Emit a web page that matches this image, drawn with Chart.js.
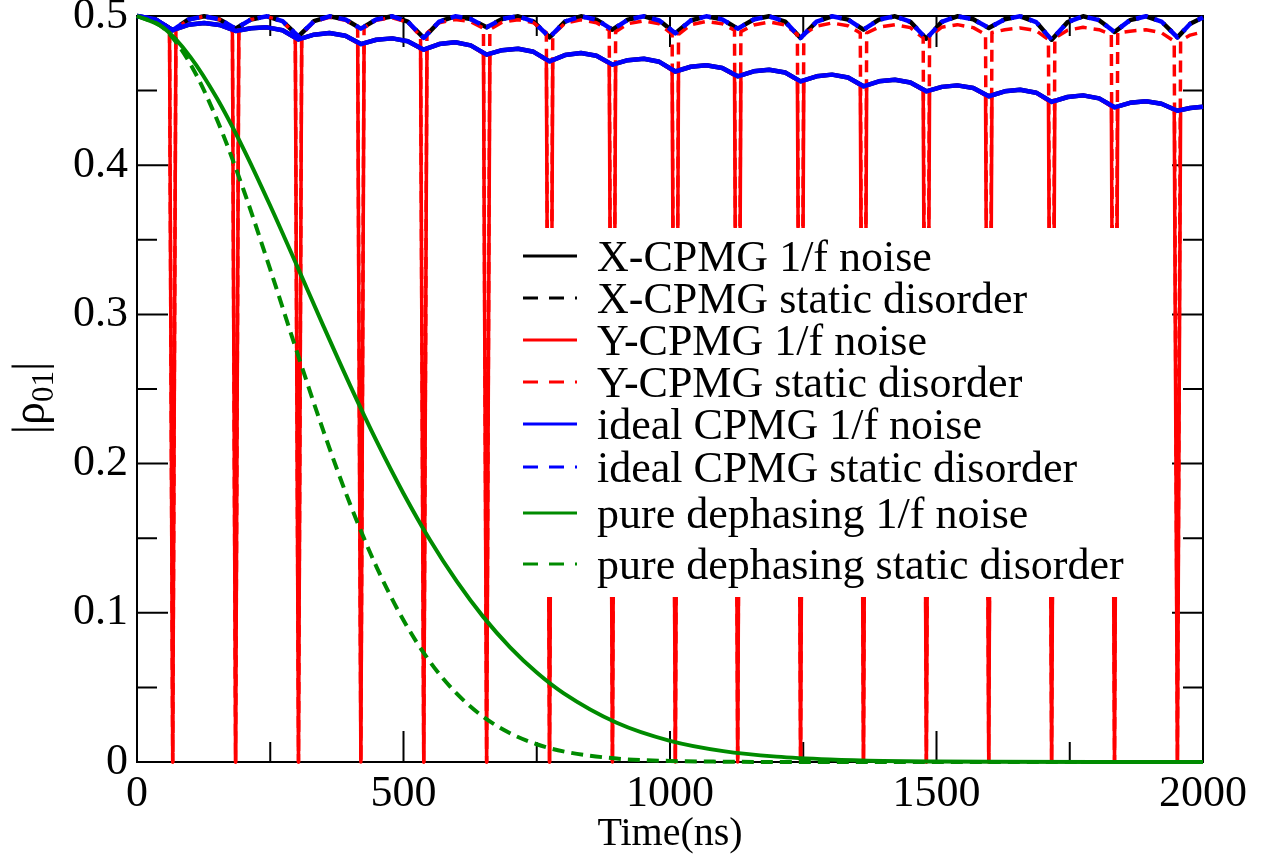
<!DOCTYPE html>
<html>
<head>
<meta charset="utf-8">
<script src="https://cdn.jsdelivr.net/npm/chart.js@4.4.0/dist/chart.umd.min.js"></script>
<style>
    html, body { margin: 0; padding: 0; background: #ffffff; }
    #wrap { width: 1279px; height: 861px; }
</style>
</head>
<body>
<div id="wrap"><canvas id="rho-chart" width="1279" height="861"></canvas></div>
<script>
(function () {
    'use strict';

    // axis ticks
    const xTicks = [0, 500, 1000, 1500, 2000];
    const xMinorTicks = [250, 750, 1250, 1750];
    const yTicks = [0, 0.1, 0.2, 0.3, 0.4, 0.5];
    const yMinorTicks = [0.05, 0.15, 0.25, 0.35, 0.45];

    const seriesLabels = [
        'X-CPMG 1/f noise',
        'X-CPMG static disorder',
        'Y-CPMG 1/f noise',
        'Y-CPMG static disorder',
        'ideal CPMG 1/f noise',
        'ideal CPMG static disorder',
        'pure dephasing 1/f noise',
        'pure dephasing static disorder'
    ];

    // X-CPMG / ideal CPMG: time grid (ns), cusps at the pulses
    const cpmgTimes = [0, 34, 67,
        96, 126, 155, 185, 214, 244, 273, 303, 332, 361, 391, 420, 449, 479, 508, 538,
        567, 597, 626, 656, 685, 715, 744, 774, 803, 833, 862, 892, 921, 951, 980, 1010,
        1039, 1068, 1098, 1127, 1157, 1186, 1216, 1245, 1275, 1304, 1334, 1363, 1392, 1422, 1451, 1481,
        1510, 1539, 1569, 1598, 1628, 1657, 1687, 1716, 1746, 1775, 1805, 1834, 1863, 1893, 1922, 1952,
        1976, 2000];

    const cpmgNoise = [0.5, 0.4978, 0.4905,
        0.4941, 0.4953, 0.494, 0.49, 0.4918, 0.4924, 0.4904, 0.4843, 0.4875, 0.4886, 0.4868, 0.4812,
        0.4841, 0.485, 0.4831, 0.4774, 0.4812, 0.4824, 0.4803, 0.4741, 0.4771, 0.4781, 0.476, 0.4696,
        0.4738, 0.4752, 0.4733, 0.4674, 0.4704, 0.4714, 0.4693, 0.4628, 0.466, 0.467, 0.4652, 0.4596,
        0.4629, 0.464, 0.4621, 0.4562, 0.4596, 0.4607, 0.4588, 0.4529, 0.4562, 0.4573, 0.4554, 0.4495,
        0.4525, 0.4535, 0.4517, 0.4462, 0.4495, 0.4506, 0.4486, 0.4424, 0.4457, 0.4468, 0.4448, 0.4388,
        0.4418, 0.4428, 0.4412, 0.4365,
        0.4383, 0.4392];

    const cpmgStatic = [0.5, 0.4978, 0.4905,
        0.4975, 0.4998, 0.4977, 0.4915, 0.4977, 0.4998, 0.4965, 0.4864, 0.4965, 0.4998, 0.4977, 0.4915,
        0.4977, 0.4998, 0.4962, 0.4853, 0.4962, 0.4998, 0.498, 0.4924, 0.498, 0.4998, 0.4963, 0.4857,
        0.4963, 0.4998, 0.4976, 0.4908, 0.4976, 0.4998, 0.497, 0.4884, 0.497, 0.4998, 0.4977, 0.4915,
        0.4977, 0.4998, 0.4962, 0.4853, 0.4962, 0.4998, 0.4976, 0.4908, 0.4976, 0.4998, 0.4961, 0.4848,
        0.4961, 0.4998, 0.4978, 0.492, 0.4978, 0.4998, 0.4959, 0.4841, 0.4959, 0.4998, 0.4972, 0.4893,
        0.4972, 0.4998, 0.4963, 0.4857,
        0.4948, 0.499];

    // Y-CPMG: same arches, the coherence drops to zero at every pulse
    const yTimes = [0, 34, 61, 67, 73,
        96, 126, 155, 179, 185, 191,
        214, 244, 273, 297, 303, 309,
        332, 361, 391, 414, 420, 426,
        449, 479, 508, 532, 538, 544,
        567, 597, 626, 650, 656, 662,
        685, 715, 744, 768, 774, 780,
        803, 833, 862, 886, 892, 898,
        921, 951, 980, 1004, 1010, 1016,
        1039, 1068, 1098, 1121, 1127, 1133,
        1157, 1186, 1216, 1239, 1245, 1251,
        1275, 1304, 1334, 1357, 1363, 1369,
        1392, 1422, 1451, 1475, 1481, 1487,
        1510, 1539, 1569, 1592, 1598, 1604,
        1628, 1657, 1687, 1710, 1716, 1722,
        1746, 1775, 1805, 1828, 1834, 1840,
        1863, 1893, 1922, 1946, 1952, 1958,
        1976, 2000];

    const yNoise = [0.5, 0.4978, 0.491, 0, 0.491,
        0.4941, 0.4953, 0.494, 0.4905, 0, 0.4905,
        0.4918, 0.4924, 0.4904, 0.485, 0, 0.485,
        0.4875, 0.4886, 0.4868, 0.4818, 0, 0.4818,
        0.4841, 0.485, 0.4831, 0.478, 0, 0.478,
        0.4812, 0.4824, 0.4803, 0.4747, 0, 0.4747,
        0.4771, 0.4781, 0.476, 0.4703, 0, 0.4703,
        0.4738, 0.4752, 0.4733, 0.468, 0, 0.468,
        0.4704, 0.4714, 0.4693, 0.4635, 0, 0.4635,
        0.466, 0.467, 0.4652, 0.4602, 0, 0.4602,
        0.4629, 0.464, 0.4621, 0.4569, 0, 0.4569,
        0.4596, 0.4607, 0.4588, 0.4535, 0, 0.4535,
        0.4562, 0.4573, 0.4554, 0.4502, 0, 0.4502,
        0.4525, 0.4535, 0.4517, 0.4468, 0, 0.4468,
        0.4495, 0.4506, 0.4486, 0.443, 0, 0.443,
        0.4457, 0.4468, 0.4448, 0.4394, 0, 0.4394,
        0.4418, 0.4428, 0.4412, 0.4371, 0, 0.4371,
        0.4383, 0.4392];

    const yStatic = [0.5, 0.4978, 0.4915, 0, 0.4915,
        0.4975, 0.4998, 0.4977, 0.4925, 0, 0.4925,
        0.4977, 0.4996, 0.4965, 0.4875, 0, 0.4875,
        0.4963, 0.4992, 0.4972, 0.4922, 0, 0.4922,
        0.4972, 0.4988, 0.4958, 0.4865, 0, 0.4886,
        0.4955, 0.4976, 0.4962, 0.4918, 0, 0.491,
        0.4958, 0.4975, 0.4955, 0.4888, 0, 0.4875,
        0.4952, 0.4974, 0.4955, 0.4905, 0, 0.4895,
        0.4948, 0.4968, 0.4948, 0.4878, 0, 0.4877,
        0.4942, 0.4964, 0.4948, 0.4905, 0, 0.4895,
        0.494, 0.496, 0.494, 0.4877, 0, 0.4877,
        0.4932, 0.4953, 0.4935, 0.4886, 0, 0.4886,
        0.4925, 0.4942, 0.4922, 0.4853, 0, 0.4862,
        0.4925, 0.4942, 0.4922, 0.4876, 0, 0.4889,
        0.4908, 0.492, 0.4902, 0.4842, 0, 0.4853,
        0.4905, 0.4924, 0.4908, 0.4875, 0, 0.4886,
        0.4898, 0.4908, 0.4888, 0.4831, 0, 0.4835,
        0.4872, 0.4893];

    // free decay without pulses
    const dephTimes = [0, 50, 100, 150, 200, 250, 300, 350, 400, 450, 500, 550, 600, 650, 700,
        750, 800, 900, 1000, 1100, 1200, 1300, 1400, 1500, 1600, 1800, 2000];
    const dephNoise = [0.5, 0.492, 0.4726, 0.4448, 0.4108, 0.3728, 0.3327, 0.292, 0.2523, 0.2147,
        0.18, 0.1486, 0.121, 0.0971, 0.0769, 0.06, 0.0462, 0.0263, 0.0142, 0.0073, 0.0036, 0.0017,
        0.0007, 0.0003, 0.0001, 0, 0];
    const dephStatic = [0.5, 0.4918, 0.4679, 0.4306, 0.3834, 0.3301, 0.275, 0.2216, 0.1727, 0.1303,
        0.095, 0.067, 0.0458, 0.0302, 0.0193, 0.0119, 0.0071, 0.0023, 0.0007, 0.0002, 0, 0,
        0, 0, 0, 0, 0];

    const SERIF = '"Liberation Serif", "Times New Roman", Times, serif';
    const DASH = [12, 7];

    function toPoints(ts, vs) {
        return ts.map(function (t, i) { return { x: t, y: vs[i] }; });
    }

    // frame + inward ticks on all four sides (xmgrace style)
    var framePlugin = {
        id: 'frame',
        beforeDatasetsDraw: function (chart) {
            const ctx = chart.ctx;
            const a = chart.chartArea;
            const sx = chart.scales.x;
            const sy = chart.scales.y;
            ctx.save();
            ctx.strokeStyle = '#000000';
            ctx.lineWidth = 2;
            ctx.strokeRect(a.left, a.top, a.right - a.left, a.bottom - a.top);
            ctx.beginPath();
            function xTick(v, len) {
                const px = sx.getPixelForValue(v);
                ctx.moveTo(px, a.bottom); ctx.lineTo(px, a.bottom - len);
                ctx.moveTo(px, a.top); ctx.lineTo(px, a.top + len);
            }
            function yTick(v, len) {
                const py = sy.getPixelForValue(v);
                ctx.moveTo(a.left, py); ctx.lineTo(a.left + len, py);
                ctx.moveTo(a.right, py); ctx.lineTo(a.right - len, py);
            }
            xTicks.forEach(function (v) { xTick(v, 31); });
            xMinorTicks.forEach(function (v) { xTick(v, 20); });
            yTicks.forEach(function (v) { yTick(v, 31); });
            yMinorTicks.forEach(function (v) { yTick(v, 20); });
            ctx.stroke();
            ctx.restore();
        }
    };

    // opaque legend box inside the plot
    var legendPlugin = {
        id: 'boxLegend',
        afterDatasetsDraw: function (chart) {
            const ctx = chart.ctx;
            const rows = [256, 298, 340, 382, 424, 467, 513, 564];
            ctx.save();
            ctx.fillStyle = '#ffffff';
            ctx.fillRect(508, 228, 642, 369);
            ctx.font = '44px ' + SERIF;
            ctx.textAlign = 'left';
            ctx.textBaseline = 'alphabetic';
            chart.data.datasets.forEach(function (ds, i) {
                const y = rows[i];
                ctx.strokeStyle = ds.borderColor;
                ctx.lineWidth = 3;
                ctx.setLineDash(ds.borderDash ? [15, 11] : []);
                ctx.beginPath();
                ctx.moveTo(523, y);
                ctx.lineTo(577, y);
                ctx.stroke();
                ctx.fillStyle = '#000000';
                ctx.fillText(ds.label, 597, y + 15);
            });
            ctx.restore();
        }
    };

    // |rho_01| with a real subscript
    var yTitlePlugin = {
        id: 'yTitle',
        afterDraw: function (chart) {
            const ctx = chart.ctx;
            const big = '46px ' + SERIF;
            const small = '31px ' + SERIF;
            ctx.save();
            ctx.translate(44, 398);
            ctx.rotate(-Math.PI / 2);
            ctx.fillStyle = '#000000';
            ctx.textBaseline = 'alphabetic';
            ctx.textAlign = 'left';
            ctx.font = big;
            const w1 = ctx.measureText('|\u03c1').width;
            const w3 = ctx.measureText('|').width;
            ctx.font = small;
            const w2 = ctx.measureText('01').width;
            let u = -(w1 + w2 + w3) / 2;
            ctx.font = big;
            ctx.fillText('|\u03c1', u, 0);
            u += w1;
            ctx.font = small;
            ctx.fillText('01', u, 9);
            u += w2;
            ctx.font = big;
            ctx.fillText('|', u, 0);
            ctx.restore();
        }
    };

    const ctx = document.getElementById('rho-chart');

    new Chart(ctx, {
        type: 'line',
        data: {
            datasets: [{
                label: seriesLabels[0],
                data: toPoints(cpmgTimes, cpmgNoise),
                borderColor: '#000000',
                borderWidth: 4.5,
                order: 8
            },
            {
                label: seriesLabels[1],
                data: toPoints(cpmgTimes, cpmgStatic),
                borderColor: '#000000',
                borderDash: DASH,
                borderDashOffset: 9,
                borderWidth: 4.5,
                order: 7
            },
            {
                label: seriesLabels[2],
                data: toPoints(yTimes, yNoise),
                borderColor: '#ff0000',
                borderWidth: 3.5,
                order: 6
            },
            {
                label: seriesLabels[3],
                data: toPoints(yTimes, yStatic),
                borderColor: '#ff0000',
                borderDash: DASH,
                borderWidth: 3.5,
                order: 5
            },
            {
                label: seriesLabels[4],
                data: toPoints(cpmgTimes, cpmgNoise),
                borderColor: '#0000ff',
                borderWidth: 4.5,
                order: 4
            },
            {
                label: seriesLabels[5],
                data: toPoints(cpmgTimes, cpmgStatic),
                borderColor: '#0000ff',
                borderDash: DASH,
                borderWidth: 4.5,
                order: 3
            },
            {
                label: seriesLabels[6],
                data: toPoints(dephTimes, dephNoise),
                borderColor: '#008b00',
                borderWidth: 4,
                cubicInterpolationMode: 'monotone',
                order: 2
            },
            {
                label: seriesLabels[7],
                data: toPoints(dephTimes, dephStatic),
                borderColor: '#008b00',
                borderDash: DASH,
                borderWidth: 4,
                cubicInterpolationMode: 'monotone',
                order: 1
            }]
        },
        options: {
            responsive: false,
            maintainAspectRatio: false,
            devicePixelRatio: 1,
            animation: false,
            events: [],
            layout: {
                padding: { left: 0, right: 76, top: 16, bottom: 0 }
            },
            elements: {
                point: { radius: 0 },
                line: { tension: 0, borderJoinStyle: 'round', fill: false }
            },
            datasets: {
                line: { clip: false }
            },
            scales: {
                x: {
                    type: 'linear',
                    min: 0,
                    max: 2000,
                    grid: { display: false, drawTicks: false },
                    border: { display: false },
                    afterBuildTicks: function (scale) {
                        scale.ticks = xTicks.map(function (v) { return { value: v }; });
                    },
                    afterFit: function (scale) {
                        scale.height = 99;
                        scale.paddingLeft = 0;
                        scale.paddingRight = 0;
                    },
                    ticks: {
                        color: '#000000',
                        font: { family: SERIF, size: 44 },
                        padding: 6,
                        maxRotation: 0,
                        autoSkip: false,
                        callback: function (v) { return String(v); }
                    },
                    title: {
                        display: true,
                        text: 'Time(ns)',
                        color: '#000000',
                        font: { family: SERIF, size: 40 },
                        padding: { top: 0, bottom: 3 }
                    }
                },
                y: {
                    type: 'linear',
                    min: 0,
                    max: 0.5,
                    grid: { display: false, drawTicks: false },
                    border: { display: false },
                    afterBuildTicks: function (scale) {
                        scale.ticks = yTicks.map(function (v) { return { value: v }; });
                    },
                    afterFit: function (scale) {
                        scale.width = 137;
                        scale.paddingTop = 0;
                        scale.paddingBottom = 0;
                    },
                    ticks: {
                        color: '#000000',
                        font: { family: SERIF, size: 44 },
                        padding: 9,
                        autoSkip: false,
                        callback: function (v) { return v === 0 ? '0' : v.toFixed(1); }
                    }
                }
            },
            plugins: {
                legend: { display: false },
                tooltip: { enabled: false }
            }
        },
        plugins: [framePlugin, legendPlugin, yTitlePlugin]
    });
})();
</script>
</body>
</html>
